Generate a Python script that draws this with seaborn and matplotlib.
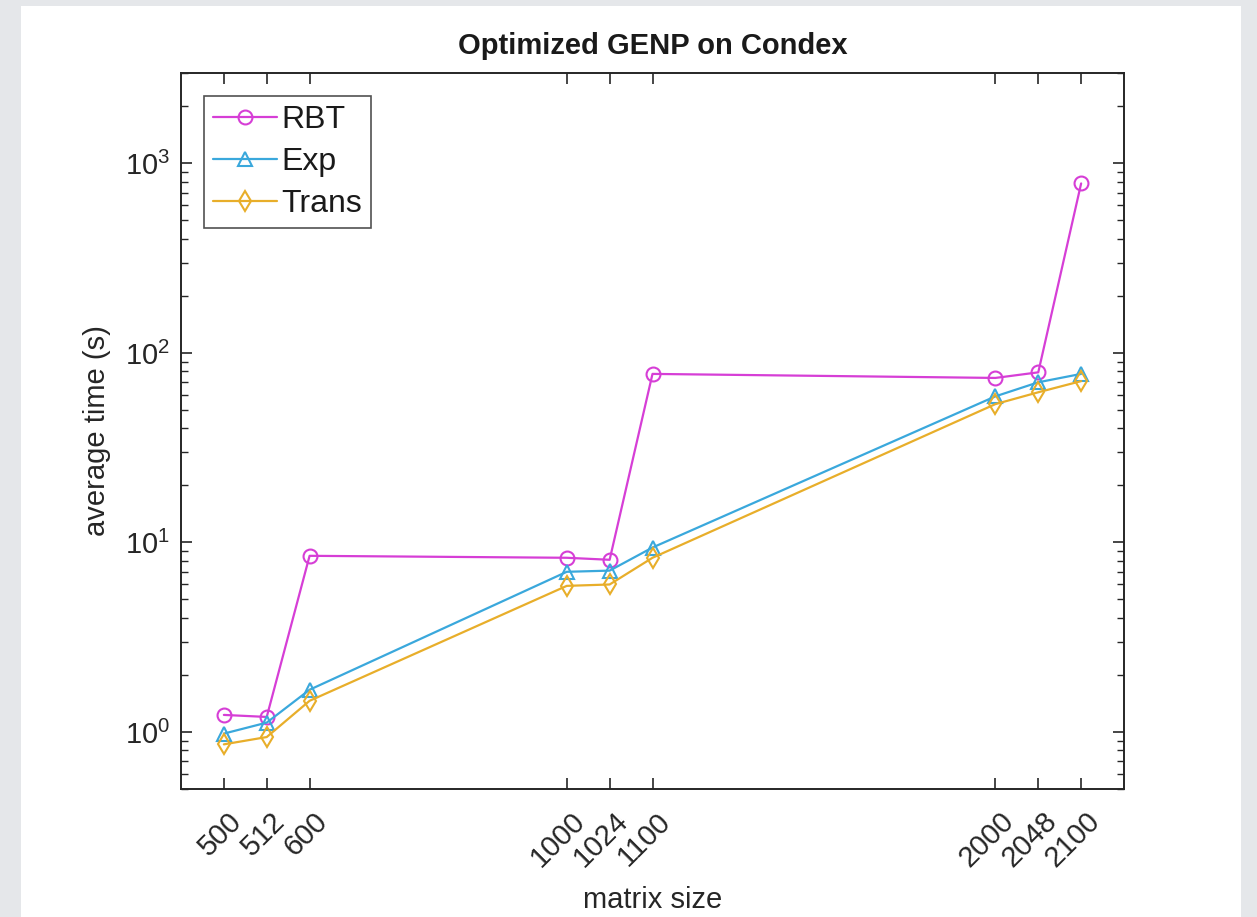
import matplotlib
matplotlib.use("Agg")
import matplotlib.pyplot as plt
import matplotlib.transforms as mtransforms
from matplotlib.patches import Rectangle
from matplotlib.ticker import LogLocator, NullFormatter
import numpy as np
import pandas as pd
import seaborn as sns


# matrix sizes are placed on an index axis with gaps between the groups
SIZE_LABELS = ['500', '512', '600', '1000', '1024', '1100', '2000', '2048', '2100']
SIZE_POS = [1, 2, 3, 9, 10, 11, 19, 20, 21]

RBT_TIME = [1.23, 1.20, 8.5, 8.3, 8.1, 77.5, 73.8, 79.0, 784.0]
EXP_TIME = [0.98, 1.12, 1.67, 7.0, 7.1, 9.4, 59.0, 70.0, 77.5]
TRANS_TIME = [0.86, 0.94, 1.46, 5.9, 6.0, 8.3, 53.7, 62.0, 71.0]

SERIES_NAMES = ['RBT', 'Exp', 'Trans']
SERIES_COLORS = ['#d63ed6', '#3aa8dc', '#e8ae2a']
SERIES_MARKERS = ['o', '^', 'd']

W, H, DPI = 1257, 917, 100
AX_COLOR = '#262626'


def build_frame():
    frames = []
    for name, values in zip(SERIES_NAMES, [RBT_TIME, EXP_TIME, TRANS_TIME]):
        frames.append(pd.DataFrame({'pos': SIZE_POS, 'time': values, 'method': name}))
    return pd.concat(frames, ignore_index=True)


sns.set_style('ticks')
plt.rcParams['font.family'] = ['Liberation Sans', 'DejaVu Sans']
plt.rcParams['mathtext.fontset'] = 'custom'
plt.rcParams['mathtext.rm'] = 'Liberation Sans'

fig = plt.figure(figsize=(W / DPI, H / DPI), dpi=DPI, facecolor='#e5e7ea')
# white panel of the screenshot
fig.patches.append(Rectangle((21 / W, 0), 1220 / W, 911 / H, transform=fig.transFigure,
                             facecolor='white', edgecolor='none', zorder=-10))

ax = fig.add_axes([181 / W, 1 - 789 / H, 943 / W, 716 / H])
ax.set_facecolor('white')

df = build_frame()
for name, color, marker in zip(SERIES_NAMES, SERIES_COLORS, SERIES_MARKERS):
    sub = df[df['method'] == name]
    sns.lineplot(data=sub, x='pos', y='time', ax=ax, color=color, label=name,
                 marker=marker, markersize=10, markerfacecolor='none',
                 markeredgecolor=color, markeredgewidth=1.5, linewidth=1.6)

ax.set_yscale('log')
ax.set_xlim(0, 22)
ax.set_ylim(0.5, 3000)

ax.set_xticks(SIZE_POS)
ax.set_xticklabels(SIZE_LABELS, rotation=45, ha='right', va='center', rotation_mode='anchor')
ax.yaxis.set_major_locator(LogLocator(base=10, numticks=10))
ax.yaxis.set_minor_locator(LogLocator(base=10, subs=np.arange(2, 10), numticks=20))
ax.yaxis.set_minor_formatter(NullFormatter())

ax.tick_params(axis='both', which='major', direction='in', length=8, width=1.2,
               color=AX_COLOR, labelsize=21, labelcolor=AX_COLOR, top=True, right=True)
ax.tick_params(axis='y', which='minor', direction='in', length=5, width=1.0,
               color=AX_COLOR, right=True)
ax.tick_params(axis='x', which='minor', bottom=False, top=False)
ax.tick_params(axis='y', which='major', pad=8)
ax.tick_params(axis='x', which='major', pad=20)

# shift rotated labels slightly right, like MATLAB places them
offset = mtransforms.ScaledTranslation(14 / DPI, 0, fig.dpi_scale_trans)
for lbl in ax.get_xticklabels():
    lbl.set_transform(lbl.get_transform() + offset)

for side in ['left', 'right', 'top', 'bottom']:
    ax.spines[side].set_visible(True)
    ax.spines[side].set_color(AX_COLOR)
    ax.spines[side].set_linewidth(1.4)

ax.set_title('Optimized GENP on Condex', fontsize=21, fontweight='bold', color='#1a1a1a', pad=14)
ax.set_xlabel('matrix size', fontsize=21, color=AX_COLOR)
ax.xaxis.set_label_coords(0.5, -(900 - 789) / 716)
ax.xaxis.label.set_va('center')
ax.set_ylabel('average time (s)', fontsize=21, color=AX_COLOR, labelpad=10)

leg = ax.legend(loc='upper left', bbox_to_anchor=(23 / 943, 1 - 23 / 716), borderaxespad=0,
                fontsize=23, handlelength=2.0, handletextpad=0.15, labelspacing=0.38,
                borderpad=0.28, frameon=True, fancybox=False)
leg.get_frame().set_edgecolor(AX_COLOR)
leg.get_frame().set_linewidth(1.2)
for txt in leg.get_texts():
    txt.set_color('#1a1a1a')

fig.savefig('out.png', dpi=DPI, facecolor=fig.get_facecolor())
